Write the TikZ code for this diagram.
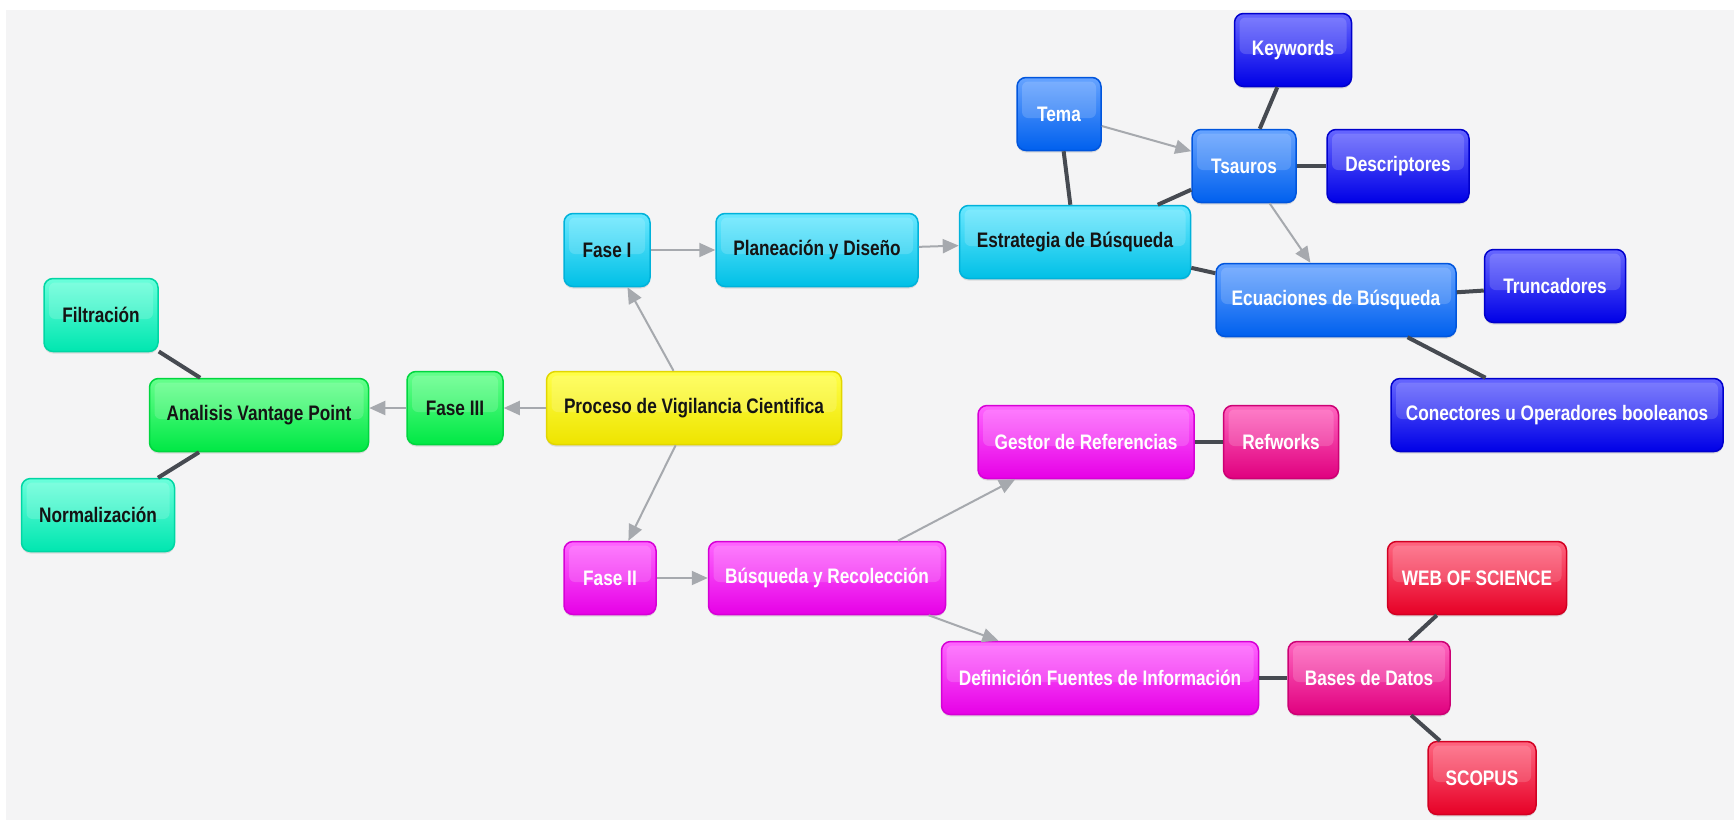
\documentclass[tikz,border=0pt]{standalone}
\usepackage{fontspec}
\setmainfont{Liberation Sans}[FakeStretch=0.82]
\usetikzlibrary{arrows.meta,shadows}
\definecolor{bgc}{HTML}{F4F4F5}
\definecolor{txtdark}{HTML}{141414}
\definecolor{arrc}{HTML}{A6A9AE}
\definecolor{linec}{HTML}{464A51}
\definecolor{tealT}{HTML}{6BFFDB}\definecolor{tealD}{HTML}{00E6B0}\definecolor{tealB}{HTML}{00D6A4}
\definecolor{grnT}{HTML}{66FF8C}\definecolor{grnD}{HTML}{00E845}\definecolor{grnB}{HTML}{00D63F}
\definecolor{yelT}{HTML}{FFFF48}\definecolor{yelD}{HTML}{EEE400}\definecolor{yelB}{HTML}{E2D600}
\definecolor{cyaT}{HTML}{6BE8FF}\definecolor{cyaD}{HTML}{00C0E6}\definecolor{cyaB}{HTML}{00B2DA}
\definecolor{bluT}{HTML}{66A3FF}\definecolor{bluD}{HTML}{0060EE}\definecolor{bluB}{HTML}{0055DD}
\definecolor{dblT}{HTML}{6666FF}\definecolor{dblD}{HTML}{0000E6}\definecolor{dblB}{HTML}{0000CC}
\definecolor{magT}{HTML}{FF66FF}\definecolor{magD}{HTML}{E600E6}\definecolor{magB}{HTML}{D600D6}
\definecolor{pnkT}{HTML}{FF66BF}\definecolor{pnkD}{HTML}{E0007F}\definecolor{pnkB}{HTML}{CC0074}
\definecolor{redT}{HTML}{FF6680}\definecolor{redD}{HTML}{E60026}\definecolor{redB}{HTML}{D20022}
\tikzset{
  box/.style={rounded corners=9pt, minimum height=73pt, inner sep=0pt, line width=1.5pt,
    font=\bfseries\fontsize{21}{25}\selectfont,
    drop shadow={shadow xshift=0pt, shadow yshift=-2pt, opacity=0.22},
    path picture={\fill[white, opacity=0.16, rounded corners=6pt]
      ([shift={(5pt,-4pt)}]path picture bounding box.north west) rectangle
      ([shift={(-5pt,-4pt)}]path picture bounding box.east);}},
  boxc/.style args={#1/#2}{box, draw=#1B, top color=#1T, bottom color=#1D, text=#2},
  cteal/.style={boxc=teal/txtdark},
  cgreen/.style={boxc=grn/txtdark},
  cyellow/.style={boxc=yel/txtdark},
  ccyan/.style={boxc=cya/txtdark},
  cblue/.style={boxc=blu/white},
  cdblue/.style={boxc=dbl/white},
  cmag/.style={boxc=mag/white},
  cpink/.style={boxc=pnk/white},
  cred/.style={boxc=red/white},
  arr/.style={draw=arrc, line width=2pt, -{Triangle[length=16pt,width=14pt]}},
  thick link/.style={draw=linec, line width=4pt},
}
\begin{document}
\begin{tikzpicture}[x=1pt,y=-1pt]
\useasboundingbox (0,0) rectangle (1734,820);
\fill[white] (0,0) rectangle (1734,820);
\fill[bgc] (6,10) rectangle (1734,820);
% nodes
\node[cteal, minimum width=114pt] (fil) at (101,315) {Filtración};
\node[cgreen, minimum width=219pt] (av) at (259,415) {Analisis Vantage Point};
\node[cgreen, minimum width=96pt] (f3) at (455,408) {Fase III};
\node[cteal, minimum width=153pt] (nor) at (98,515) {Normalización};
\node[cyellow, minimum width=295pt] (pr) at (694,408) {Proceso de Vigilancia Cientifica};
\node[ccyan, minimum width=86pt] (fi) at (607,250) {Fase I};
\node[ccyan, minimum width=202pt] (pd) at (817,250) {Planeación y Diseño};
\node[ccyan, minimum width=231pt] (eb) at (1075,242) {Estrategia de Búsqueda};
\node[cblue, minimum width=84pt] (te) at (1059,114) {Tema};
\node[cdblue, minimum width=117pt] (kw) at (1293,50) {Keywords};
\node[cblue, minimum width=104pt] (ts) at (1244,166) {Tsauros};
\node[cdblue, minimum width=142pt] (de) at (1398,166) {Descriptores};
\node[cblue, minimum width=240pt] (ec) at (1336,300) {Ecuaciones de Búsqueda};
\node[cdblue, minimum width=141pt] (tr) at (1555,286) {Truncadores};
\node[cdblue, minimum width=332pt] (co) at (1557,415) {Conectores u Operadores booleanos};
\node[cmag, minimum width=216pt] (gr) at (1086,442) {Gestor de Referencias};
\node[cpink, minimum width=115pt] (rw) at (1281,442) {Refworks};
\node[cmag, minimum width=92pt] (fii) at (610,578) {Fase II};
\node[cmag, minimum width=237pt] (br) at (827,578) {Búsqueda y Recolección};
\node[cmag, minimum width=317pt] (df) at (1100,678) {Definición Fuentes de Información};
\node[cpink, minimum width=162pt] (bd) at (1369,678) {Bases de Datos};
\node[cred, minimum width=179pt] (ws) at (1477,578) {WEB OF SCIENCE};
\node[cred, minimum width=108pt] (sc) at (1482,778) {SCOPUS};
% arrows
\draw[arr] (pr) -- (fi);
\draw[arr] (pr.west) -- (f3.east);
\draw[arr] (pr) -- (fii);
\draw[arr] (fi) -- (pd);
\draw[arr] (pd) -- (eb);
\draw[arr] (f3.west) -- (f3.west -| av.east);
\draw[arr] (fii) -- (br);
\draw[arr] (br) -- (gr);
\draw[arr] (br) -- (df);
\draw[arr] (te) -- (ts);
\draw[arr] (ts) -- (ec);
% thick links
\draw[thick link] (fil) -- (av);
\draw[thick link] (nor) -- (av);
\draw[thick link] (eb) -- (te);
\draw[thick link] (eb) -- (ts);
\draw[thick link] (eb) -- (ec);
\draw[thick link] (ts) -- (kw);
\draw[thick link] (ts) -- (de);
\draw[thick link] (ec) -- (tr);
\draw[thick link] (ec) -- (co);
\draw[thick link] (gr) -- (rw);
\draw[thick link] (df) -- (bd);
\draw[thick link] (bd) -- (ws);
\draw[thick link] (bd) -- (sc);
\end{tikzpicture}
\end{document}
